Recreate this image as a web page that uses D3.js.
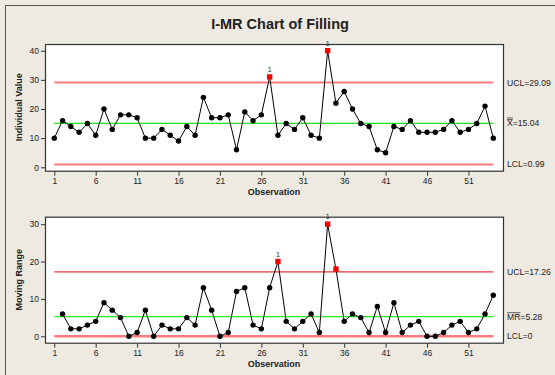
<!DOCTYPE html>
<html>
<head>
<meta charset="utf-8">
<script src="https://cdn.jsdelivr.net/npm/d3@7"></script>
<style>
  html, body { margin: 0; padding: 0; background: #eeeae1; }
  svg { display: block; }
  text { font-family: "Liberation Sans", Arial, sans-serif; fill: #222; }
</style>
</head>
<body>
<svg id="chart" width="555" height="375"></svg>
<script>
// Filling measurements, observation 1..54
const individualValues = [10,16,14,12,15,11,20,13,18,18,
                          17,10,10,13,11,9,14,11,24,17,
                          17,18,6,19,16,18,31,11,15,13,
                          17,11,10,40,22,26,20,15,14,6,
                          5,14,13,16,12,12,12,13,16,12,
                          13,15,21,10];
// Moving ranges, observation 2..54
const movingRanges = [6,2,2,3,4,9,7,5,0,
                      1,7,0,3,2,2,5,3,13,7,
                      0,1,12,13,3,2,13,20,4,2,
                      4,6,1,30,18,4,6,5,1,8,
                      1,9,1,3,4,0,0,1,3,4,
                      1,2,6,11];
// Control limits: [UCL, centre, LCL]
const individualLimits = [29.09, 15.04, 0.99];
const rangeLimits = [17.26, 5.28, 0];
// Observations that fail test 1 and carry a "1" tag
const taggedIndividual = [27, 34];
const taggedRange = [28, 34];
const xTicks = [1, 6, 11, 16, 21, 26, 31, 36, 41, 46, 51];
const yTicksIndividual = [0, 10, 20, 30, 40];
const yTicksRange = [0, 10, 20, 30];

const svg = d3.select("#chart");

// outer frame
svg.append("rect").attr("x", 5.5).attr("y", 5.5).attr("width", 560).attr("height", 380)
  .attr("fill", "#eeeae1").attr("stroke", "#555").attr("stroke-width", 1);

svg.append("text").attr("x", 280).attr("y", 29).attr("text-anchor", "middle")
  .style("font-weight", "bold").style("font-size", "14.5px").text("I-MR Chart of Filling");

const left = 45, right = 503;
const x = d3.scaleLinear().domain([-0.12, 55.17]).range([left, right]);

function panel(opts) {
  const { top, bottom, yDomain, values, firstObs, limits, tagged, yTicks, yLabel, limitLabels, labelX, labelSize } = opts;
  const y = d3.scaleLinear().domain(yDomain).range([bottom, top]);
  const g = svg.append("g");

  g.append("rect").attr("x", left + 0.5).attr("y", top + 0.5)
    .attr("width", right - left).attr("height", bottom - top)
    .attr("fill", "#fff").attr("stroke", "#333").attr("stroke-width", 1.2);

  const yAxis = d3.axisLeft(y).tickValues(yTicks).tickSize(4).tickPadding(2).tickSizeOuter(0);
  const ya = g.append("g").attr("transform", `translate(${left},0)`).call(yAxis);
  const xAxis = d3.axisBottom(x).tickValues(xTicks).tickSize(4).tickPadding(2).tickSizeOuter(0);
  const xa = g.append("g").attr("transform", `translate(0,${bottom + 1})`).call(xAxis);
  [ya, xa].forEach(a => {
    a.select(".domain").remove();
    a.selectAll(".tick line").attr("stroke", "#333");
    a.selectAll(".tick text").style("font-size", "8.5px").style("font-family", "Liberation Sans, Arial, sans-serif").attr("fill", "#222");
  });

  // control limit lines
  const x0 = x(1), x1 = x(54);
  const limitStyle = opts.limitStyle;
  limits.forEach((v, i) => {
    g.append("line").attr("x1", x0).attr("x2", x1).attr("y1", y(v)).attr("y2", y(v))
      .attr("stroke", limitStyle[i].color).attr("stroke-width", limitStyle[i].width);
  });

  const pts = values.map((v, i) => ({ obs: firstObs + i, v }));
  g.append("path").datum(pts)
    .attr("d", d3.line().x(d => x(d.obs)).y(d => y(d.v)))
    .attr("fill", "none").attr("stroke", "#000").attr("stroke-width", 1);

  const out = d => d.v > limits[0] || d.v < limits[2];
  g.selectAll("circle").data(pts.filter(d => !out(d))).join("circle")
    .attr("cx", d => x(d.obs)).attr("cy", d => y(d.v)).attr("r", 2.7).attr("fill", "#000");
  g.selectAll("rect.flag").data(pts.filter(out)).join("rect").attr("class", "flag")
    .attr("x", d => x(d.obs) - 2.7).attr("y", d => y(d.v) - 2.7)
    .attr("width", 5.4).attr("height", 5.4).attr("fill", "#ff0000");
  g.selectAll("text.tag").data(pts.filter(d => tagged.includes(d.obs))).join("text").attr("class", "tag")
    .attr("x", d => x(d.obs)).attr("y", d => y(d.v) - 5).attr("text-anchor", "middle")
    .style("font-size", "7px").text("1");

  // axis titles
  g.append("text").attr("transform", `translate(22,${(top + bottom) / 2}) rotate(-90)`)
    .attr("text-anchor", "middle").style("font-weight", "bold").style("font-size", "9px").text(yLabel);
  g.append("text").attr("x", (left + right) / 2).attr("y", bottom + 24).attr("text-anchor", "middle")
    .style("font-weight", "bold").style("font-size", "9px").text("Observation");

  // limit labels at the right
  limitLabels.forEach((lab, i) => {
    const t = g.append("text").attr("x", labelX).attr("y", y(limits[i]) + 3)
      .style("font-size", labelSize + "px").text(lab.text);
    if (lab.bar) {
      const node = t.node();
      const w = node.getSubStringLength(0, lab.bar);
      const by = y(limits[i]) + 3 - labelSize * 0.8;
      const n = lab.double ? 2 : 1;
      for (let k = 0; k < n; k++) {
        g.append("line").attr("x1", labelX).attr("x2", labelX + w)
          .attr("y1", by - k * 1.6).attr("y2", by - k * 1.6)
          .attr("stroke", "#222").attr("stroke-width", 0.7);
      }
    }
  });
  return y;
}

panel({
  top: 44, bottom: 170.7, yDomain: [-1.17, 42.3],
  values: individualValues, firstObs: 1, limits: individualLimits,
  tagged: taggedIndividual, yTicks: yTicksIndividual, yLabel: "Individual Value",
  limitStyle: [{ color: "#ff7b7b", width: 2 }, { color: "#22dd22", width: 1.3 }, { color: "#ff7b7b", width: 2 }],
  limitLabels: [
    { text: "UCL=" + individualLimits[0].toFixed(2) },
    { text: "X=" + individualLimits[1].toFixed(2), bar: 1, double: true },
    { text: "LCL=" + individualLimits[2].toFixed(2) }
  ],
  labelX: 507, labelSize: 8.6
});

panel({
  top: 216.7, bottom: 342.7, yDomain: [-1.71, 32],
  values: movingRanges, firstObs: 2, limits: rangeLimits,
  tagged: taggedRange, yTicks: yTicksRange, yLabel: "Moving Range",
  limitStyle: [{ color: "#e8383a", width: 1.2 }, { color: "#22ee22", width: 1.3 }, { color: "#ff7b7b", width: 2.4 }],
  limitLabels: [
    { text: "UCL=" + rangeLimits[0].toFixed(2) },
    { text: "MR=" + rangeLimits[1].toFixed(2), bar: 2 },
    { text: "LCL=" + rangeLimits[2] }
  ],
  labelX: 507, labelSize: 8.6
});
</script>
</body>
</html>
